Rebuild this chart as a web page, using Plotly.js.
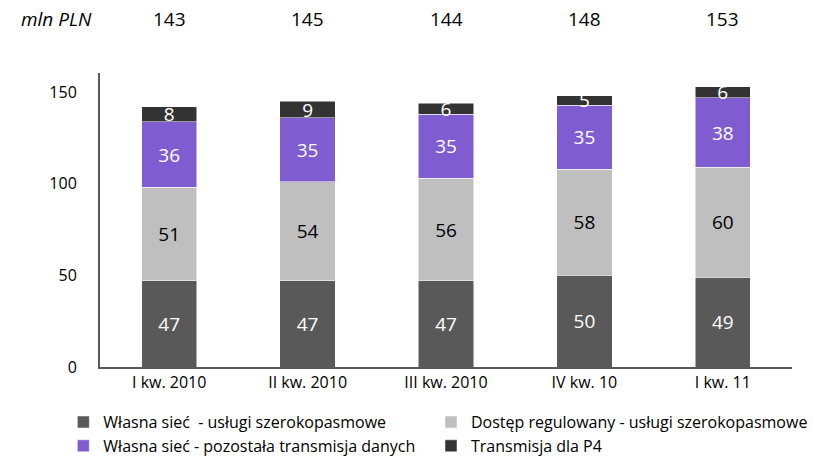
<!DOCTYPE html>
<html>
<head>
<meta charset="utf-8">
<script src="https://cdn.plot.ly/plotly-3.0.1.min.js"></script>
<style>
  html, body { margin: 0; padding: 0; background: #fff; }
  #chart { width: 813px; height: 464px; }
</style>
</head>
<body>
<div id="chart"></div>
<script>
// quarters
const quarters = ["I kw. 2010", "II kw. 2010", "III kw. 2010", "IV kw. 10", "I kw. 11"];

// series (mln PLN)
const ownBroadband = [47, 47, 47, 50, 49];
const regulatedBroadband = [51, 54, 56, 58, 60];
const ownOtherData = [36, 35, 35, 35, 38];
const p4Transmission = [8, 9, 6, 5, 6];
const totals = [143, 145, 144, 148, 153];

const seriesNames = [
    "Własna sieć  - usługi szerokopasmowe",
    "Dostęp regulowany - usługi szerokopasmowe",
    "Własna sieć - pozostała transmisja danych",
    "Transmisja dla P4"
];

const font = "'Open Sans', 'DejaVu Sans', sans-serif";

function bar(name, values, color, textColor, legendId) {
    return {
        x: quarters,
        y: values,
        name: name,
        type: 'bar',
        legend: legendId,
        text: values.map(String),
        textposition: 'inside',
        insidetextanchor: 'middle',
        textangle: 0,
        constraintext: 'none',
        textfont: { family: font, size: 19, color: textColor },
        marker: { color: color, line: { color: "#ffffff", width: 0.5 } },
        hoverinfo: 'x+y+name'
    };
}

const data = [
    bar(seriesNames[0], ownBroadband, "#595959", "#ffffff", 'legend'),
    bar(seriesNames[1], regulatedBroadband, "#bfbfbf", "#000000", 'legend2'),
    bar(seriesNames[2], ownOtherData, "#7f5ccf", "#ffffff", 'legend'),
    bar(seriesNames[3], p4Transmission, "#333333", "#ffffff", 'legend2')
];

const annotations = quarters.map((q, i) => ({
    x: q, y: 1, xref: 'x', yref: 'paper', yanchor: 'middle',
    yshift: 54, text: String(totals[i]), showarrow: false,
    font: { family: font, size: 19, color: "#000" }
}));
annotations.push({
    x: 0, xref: 'paper', xanchor: 'right', xshift: -6,
    y: 1, yref: 'paper', yanchor: 'middle', yshift: 54,
    text: "<i>mln PLN</i>", showarrow: false,
    font: { family: font, size: 19, color: "#000" }
});

const legendBase = {
    orientation: 'v', yref: 'container', yanchor: 'top', y: 0.127, xanchor: 'left',
    traceorder: 'normal', bgcolor: 'rgba(0,0,0,0)',
    font: { family: font, size: 16, color: "#000" },
    itemwidth: 30, tracegroupgap: 0
};

const layout = {
    width: 813,
    height: 464,
    margin: { l: 100, r: 21, t: 73, b: 97 },
    barmode: 'stack',
    bargap: 0.6,
    paper_bgcolor: "#fff",
    plot_bgcolor: "#fff",
    font: { family: font, size: 16, color: "#000" },
    xaxis: {
        showline: true, linecolor: "#595959", linewidth: 2,
        ticks: '', tickfont: { family: font, size: 16 },
        showgrid: false
    },
    yaxis: {
        range: [0, 160.5], tickvals: [0, 50, 100, 150],
        showline: true, linecolor: "#595959", linewidth: 2,
        showgrid: false, zeroline: false, ticks: '',
        tickfont: { family: font, size: 16 }, ticklabelstandoff: 18
    },
    showlegend: true,
    legend: Object.assign({}, legendBase, { x: -0.053 }),
    legend2: Object.assign({}, legendBase, { x: 0.487 }),
    annotations: annotations
};

Plotly.newPlot('chart', data, layout, { displayModeBar: false });
</script>
</body>
</html>
